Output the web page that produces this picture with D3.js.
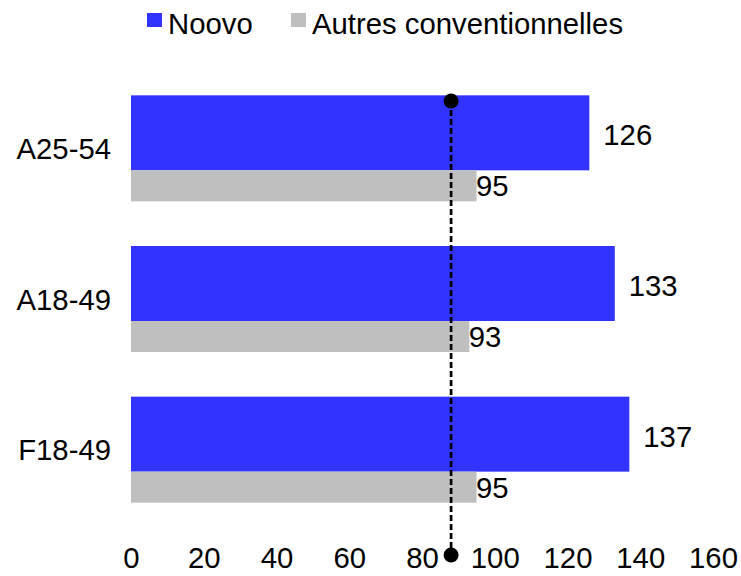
<!DOCTYPE html>
<html>
<head>
<meta charset="utf-8">
<script src="https://cdn.jsdelivr.net/npm/d3@7"></script>
<style>
  html, body { margin: 0; padding: 0; background: #fff; }
  svg { display: block; font-family: "Liberation Sans", Arial, sans-serif; }
</style>
</head>
<body>
<svg id="chart" width="741" height="576"></svg>
<script>
const categories = ["A25-54", "A18-49", "F18-49"];
const noovo = [126, 133, 137];
const autres = [95, 93, 95];
const seriesNames = ["Noovo", "Autres conventionnelles"];
const seriesColors = ["#3333FF", "#BFBFBF"];
const xTicks = [0, 20, 40, 60, 80, 100, 120, 140, 160];
const refValue = 88;

const svg = d3.select("#chart");
const fontSize = 29.3;

const x = d3.scaleLinear().domain([0, 160]).range([131, 713]);
const y = d3.scaleBand().domain(categories).range([73, 525])
  .paddingInner(0.2965).paddingOuter(0.2965 / 2);
const bw = y.bandwidth();
const blueFrac = 75 / 106;

const g = svg.append("g");

// Noovo bars
g.selectAll("rect.noovo").data(categories).join("rect")
  .attr("class", "noovo")
  .attr("x", x(0))
  .attr("y", d => y(d))
  .attr("width", (d, i) => x(noovo[i]) - x(0))
  .attr("height", bw * blueFrac)
  .attr("fill", seriesColors[0]);

// Autres bars
g.selectAll("rect.autres").data(categories).join("rect")
  .attr("class", "autres")
  .attr("x", x(0))
  .attr("y", d => y(d) + bw * blueFrac)
  .attr("width", (d, i) => x(autres[i]) - x(0))
  .attr("height", bw * (1 - blueFrac))
  .attr("fill", seriesColors[1]);

// value labels
g.selectAll("text.vn").data(categories).join("text")
  .attr("class", "vn")
  .attr("x", (d, i) => x(noovo[i]) + 14)
  .attr("y", d => y(d) + bw * blueFrac / 2 + 2)
  .attr("dominant-baseline", "central")
  .attr("font-size", fontSize)
  .text((d, i) => noovo[i]);

g.selectAll("text.va").data(categories).join("text")
  .attr("class", "va")
  .attr("x", (d, i) => x(autres[i]) - 0.5)
  .attr("y", d => y(d) + bw * blueFrac + bw * (1 - blueFrac) / 2)
  .attr("dominant-baseline", "central")
  .attr("font-size", fontSize)
  .text((d, i) => autres[i]);

// category labels
g.selectAll("text.cat").data(categories).join("text")
  .attr("class", "cat")
  .attr("x", 111)
  .attr("y", d => y(d) + bw / 2)
  .attr("text-anchor", "end")
  .attr("dominant-baseline", "central")
  .attr("font-size", fontSize)
  .text(d => d);

// x axis
const xAxis = d3.axisBottom(x).tickValues(xTicks).tickSize(0).tickPadding(0).tickFormat(d3.format("d"));
const ax = svg.append("g").attr("transform", "translate(0,547)").call(xAxis);
ax.select(".domain").remove();
ax.selectAll("text").attr("font-size", fontSize).attr("fill", "#000")
  .attr("font-family", "Liberation Sans, Arial, sans-serif");

// reference line
const yTop = 101, yBot = 555;
svg.append("line")
  .attr("x1", x(refValue)).attr("x2", x(refValue))
  .attr("y1", yTop).attr("y2", yBot)
  .attr("stroke", "#000").attr("stroke-width", 2.7)
  .attr("stroke-dasharray", "6,3");
svg.selectAll("circle.ref").data([yTop, yBot]).join("circle")
  .attr("class", "ref")
  .attr("cx", x(refValue)).attr("cy", d => d).attr("r", 7.5)
  .attr("fill", "#000");

// legend
const legendX = [147, 291];
const leg = svg.selectAll("g.leg").data(seriesNames).join("g")
  .attr("class", "leg")
  .attr("transform", (d, i) => `translate(${legendX[i]},13)`);
leg.append("rect").attr("width", 15).attr("height", 14)
  .attr("fill", (d, i) => seriesColors[i]);
leg.append("text").attr("x", 21).attr("y", 20.5)
  .attr("font-size", fontSize)
  .attr("font-family", "Liberation Sans, Arial, sans-serif")
  .text(d => d);
</script>
</body>
</html>
